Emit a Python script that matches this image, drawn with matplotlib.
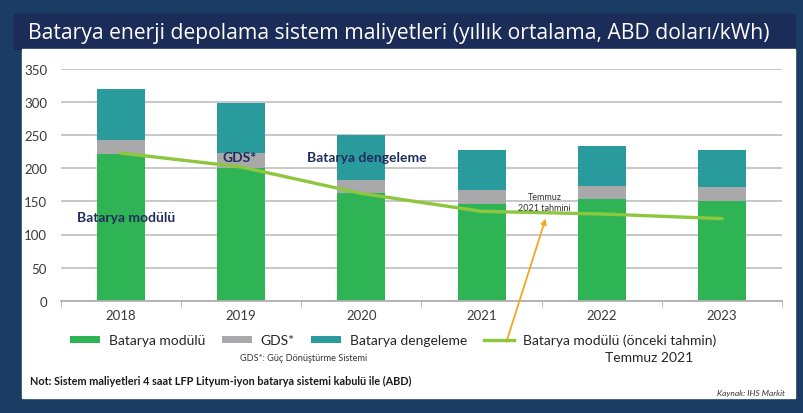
import numpy as np
import matplotlib
matplotlib.use("Agg")
import matplotlib.pyplot as plt
from matplotlib.patches import Rectangle

plt.rcParams['font.family'] = ['Lato', 'DejaVu Sans']

# data (USD/kWh)
years = ['2018', '2019', '2020', '2021', '2022', '2023']
modul = [222, 200, 162, 146, 154, 151]
gds = [20, 23, 21, 21, 20, 20]
dengeleme = [78, 76, 67, 61, 60, 57]
onceki_tahmin = [223, 202, 162, 135, 131, 124]

c_modul = '#2fb455'
c_gds = '#a9a9ab'
c_deng = '#2a9b9c'
c_line = '#8dc63f'
navy = '#1f2d5e'

fig = plt.figure(figsize=(8.04, 4.14), dpi=100)
fig.patch.set_facecolor('#1b3d63')

W, H = 804, 414
def fx(px):
    return px / W
def fy(py):
    return 1 - py / H

# title bar and white panel
fig.add_artist(Rectangle((fx(14), fy(50)), fx(795 - 14), (50 - 15) / H,
                         transform=fig.transFigure, color='#1c2c58', zorder=0))
fig.add_artist(Rectangle((fx(22), fy(399)), fx(795 - 22), (399 - 50) / H,
                         transform=fig.transFigure, color='white', zorder=0))
fig.text(fx(28), fy(33), 'Batarya enerji depolama sistem maliyetleri (yıllık ortalama, ABD doları/kWh)',
         color='white', fontsize=15.2, va='center', ha='left', family=['Open Sans', 'DejaVu Sans'])

ax = fig.add_axes([fx(61), fy(301.7), fx(782 - 61), (301.7 - 70) / H])
ax.set_facecolor('none')
x = np.arange(len(years))
bw = 0.4
b1 = ax.bar(x, modul, bw, color=c_modul, zorder=2, label='Batarya modülü')
b2 = ax.bar(x, gds, bw, bottom=modul, color=c_gds, zorder=2, label='GDS*')
bot3 = np.array(modul) + np.array(gds)
b3 = ax.bar(x, dengeleme, bw, bottom=bot3, color=c_deng, zorder=2, label='Batarya dengeleme')
ln, = ax.plot(x, onceki_tahmin, color=c_line, lw=2.4, zorder=3,
              label='Batarya modülü (önceki tahmin)')

ax.set_xlim(-0.5, len(years) - 0.5)
ax.set_ylim(0, 350)
ax.set_yticks(range(0, 351, 50))
ax.set_xticks(x)
ax.set_xticklabels(years)
ax.set_xticks(np.arange(-0.5, len(years), 1), minor=True)
ax.grid(axis='y', color='#c4c4c4', lw=1.3, zorder=0)
for s in ['top', 'right', 'left']:
    ax.spines[s].set_visible(False)
ax.spines['bottom'].set_color('#b0b0b0')
ax.spines['bottom'].set_linewidth(1.3)
ax.tick_params(axis='y', length=0, labelsize=9.5, labelcolor='#3a3a3a', pad=10)
ax.tick_params(axis='x', which='major', length=0, labelsize=9.5, labelcolor='#3a3a3a', pad=6)
ax.tick_params(axis='x', which='minor', length=4, color='#b0b0b0')

# labels inside the plot
ax.text(-0.37, 126, 'Batarya modülü', color=navy, fontsize=10, fontweight='bold', va='center')
ax.text(0.99, 217, 'GDS*', color=navy, fontsize=10, fontweight='bold', va='center', ha='center')
ax.text(1.55, 217, 'Batarya dengeleme', color=navy, fontsize=10, fontweight='bold', va='center')
ax.text(3.525, 158, 'Temmuz', color='#333333', fontsize=6.5, ha='center', va='center')
ax.text(3.525, 141, '2021 tahmini', color='#333333', fontsize=6.5, ha='center', va='center')
ax.annotate('', xy=(3.54, 128), xytext=(3.2, -66), annotation_clip=False,
            arrowprops=dict(arrowstyle='-|>', color='#f5a623', lw=1.3, mutation_scale=8))

fig.legend(handles=[b1, b2, b3, ln], loc='center left', bbox_to_anchor=(fx(70), fy(341)),
           ncol=4, frameon=False, fontsize=10, handlelength=2.15, handleheight=0.35,
           columnspacing=1.2, handletextpad=0.65, borderpad=0, borderaxespad=0,
           labelcolor='#262626')

fig.text(fx(304), fy(359), 'GDS*: Güç Dönüştürme Sistemi', fontsize=6.6, color='#333333',
         ha='center', va='center')
fig.text(fx(649), fy(358), 'Temmuz 2021', fontsize=10, color='#262626', ha='center', va='center')
fig.text(fx(30), fy(381), 'Not: Sistem maliyetleri 4 saat LFP Lityum-iyon batarya sistemi kabulü ile (ABD)',
         fontsize=7.8, fontweight='bold', color='#1a1a1a', va='center')
fig.text(fx(785), fy(394), 'Kaynak: IHS Markit', fontsize=6, fontstyle='italic', color='#333333',
         ha='right', va='center')

fig.savefig('out.png', dpi=100, facecolor=fig.get_facecolor())
